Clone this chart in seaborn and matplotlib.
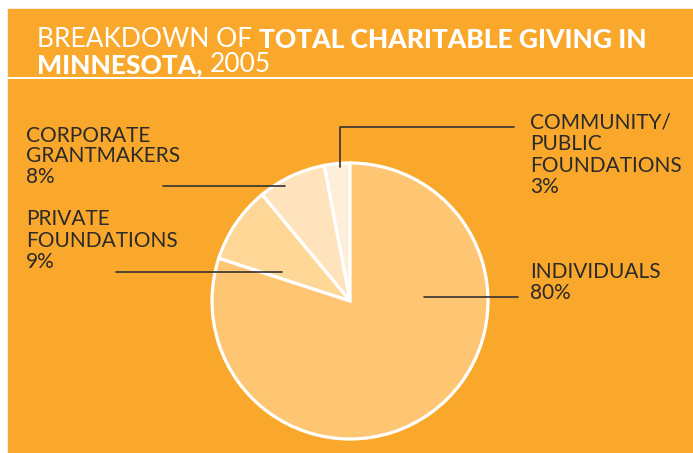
import matplotlib
matplotlib.use("Agg")
import matplotlib.pyplot as plt
from matplotlib.patches import Rectangle
import seaborn as sns

# ---------------------------------------------------------------------------
# Data
# ---------------------------------------------------------------------------
categories = [
    "COMMUNITY/\nPUBLIC\nFOUNDATIONS",
    "CORPORATE\nGRANTMAKERS",
    "PRIVATE\nFOUNDATIONS",
    "INDIVIDUALS",
]
shares = [3, 8, 9, 80]

title_light_1 = "BREAKDOWN OF"
title_bold_1 = "TOTAL CHARITABLE GIVING IN"
title_bold_2 = "MINNESOTA,"
title_light_2 = "2005"

# ---------------------------------------------------------------------------
# Style
# ---------------------------------------------------------------------------
W, H = 693, 453
ORANGE = "#F9A82B"
INK = "#2A2A2A"
slice_colors = ["#FDEFDA", "#FEE3BC", "#FED797", "#FEC673"]

sns.set_theme(style="white")
plt.rcParams["font.family"] = ["Lato", "DejaVu Sans"]

# label layout in image pixels (y from top): text x, first baseline, line step,
# leader polyline
label_layout = [
    dict(x=530, y=128.5, step=21.5, leader=[(340, 167), (340, 127), (514, 127)]),
    dict(x=26, y=142, step=20.5, leader=[(163, 186), (285, 186)]),
    dict(x=26, y=225, step=21.6, leader=[(116, 272), (282, 272)]),
    dict(x=530, y=277.5, step=21.5, leader=[(424, 297), (518, 297)]),
]


def up(y):
    """image row -> data y (axes run in pixels, y up)"""
    return H - y


fig = plt.figure(figsize=(W / 100, H / 100), dpi=100)
fig.patch.set_facecolor("white")
ax = fig.add_axes([0, 0, 1, 1])

# orange panel + white rule under the title
ax.add_patch(Rectangle((7.5, 0), W - 7.5, H - 9, color=ORANGE, zorder=0))
ax.plot([7.5, W], [up(77.8), up(77.8)], color="white", lw=1.4, zorder=1,
        solid_capstyle="butt")

wedges, _ = ax.pie(
    shares,
    colors=slice_colors,
    startangle=90,
    counterclock=True,
    center=(350, up(301)),
    radius=138,
    wedgeprops=dict(edgecolor="white", linewidth=2.3),
)
for w in wedges:
    w.set_zorder(2)

ax.set_xlim(0, W)
ax.set_ylim(0, H)
ax.set_aspect("equal")
ax.axis("off")

# labels and leader lines
for cat, share, lay in zip(categories, shares, label_layout):
    lines = cat.split("\n") + [f"{share}%"]
    for i, line in enumerate(lines):
        ax.text(lay["x"], up(lay["y"] + i * lay["step"]), line,
                fontsize=15, fontweight="normal", color=INK,
                ha="left", va="baseline", zorder=4)
    xs = [p[0] for p in lay["leader"]]
    ys = [up(p[1]) for p in lay["leader"]]
    ax.plot(xs, ys, color="#333333", lw=1.2, zorder=3)

# title, mixed weights
TSIZE = 19
t1 = ax.text(37, up(47), title_light_1, fontsize=TSIZE, fontweight="normal",
             color="white", ha="left", va="baseline")
ax.annotate(title_bold_1, xy=(1, 0), xycoords=t1, xytext=(5, 0),
            textcoords="offset points", fontsize=TSIZE, fontweight="black",
            color="white", ha="left", va="bottom")
t3 = ax.text(37, up(73), title_bold_2, fontsize=TSIZE, fontweight="black",
             color="white", ha="left", va="baseline")
ax.annotate(title_light_2, xy=(1, 0), xycoords=t3, xytext=(5, 0),
            textcoords="offset points", fontsize=TSIZE, fontweight="normal",
            color="white", ha="left", va="bottom")

fig.savefig("out.png", dpi=100, facecolor=fig.get_facecolor())
